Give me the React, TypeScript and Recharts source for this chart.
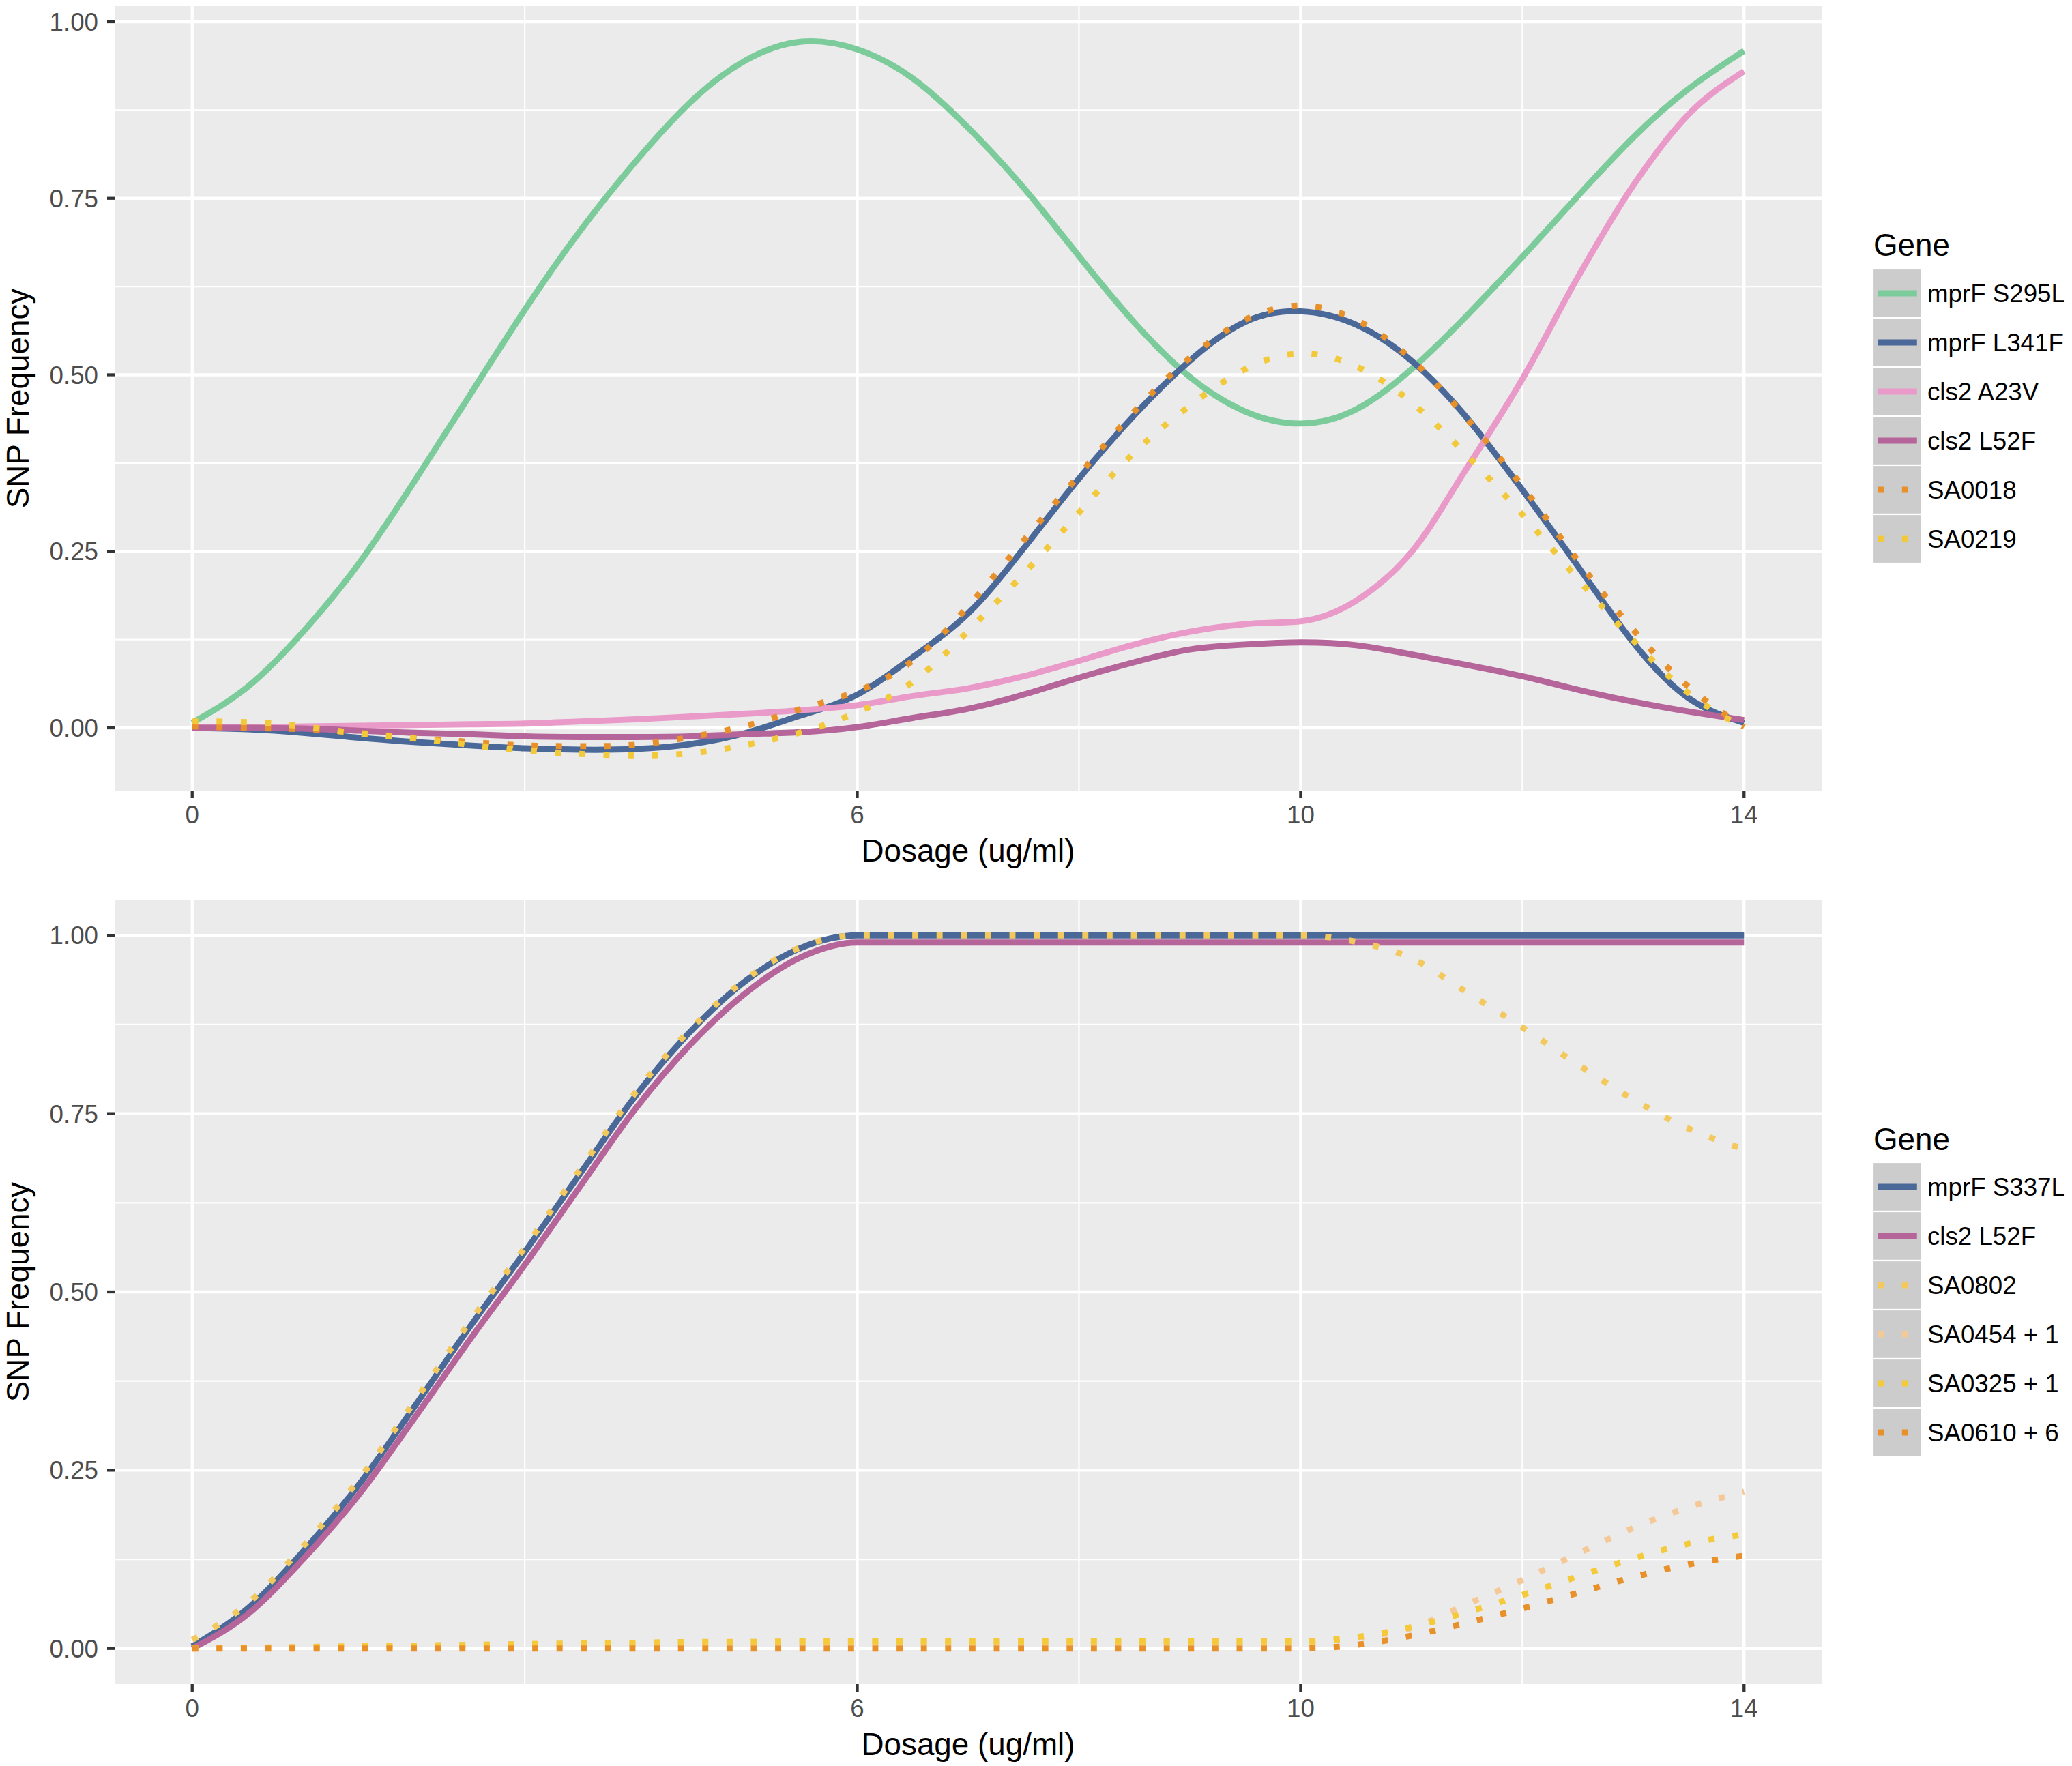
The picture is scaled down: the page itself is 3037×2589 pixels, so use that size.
import React from 'react';
import { LineChart, Line, XAxis, YAxis, CartesianGrid } from 'recharts';

const FONT = "'Liberation Sans', Arial, Helvetica, sans-serif";

// shared x values (dosage, ug/ml)
const dosage = [0, 0.5, 1, 1.5, 2, 2.5, 3, 3.5, 4, 4.5, 5, 5.5, 6, 6.5, 7, 7.5, 8, 8.5, 9, 9.5, 10, 10.5, 11, 11.5, 12, 12.5, 13, 13.5, 14];
const xMajor = [0, 6, 10, 14];
const xMinor = [3, 8, 12];
const yMajor = [0, 0.25, 0.5, 0.75, 1];
const yMinor = [0.125, 0.375, 0.625, 0.875];

// ---- top panel series ----
const mprF_S295L = [0.007, 0.058, 0.136, 0.232, 0.348, 0.47, 0.592, 0.704, 0.802, 0.887, 0.946, 0.972, 0.961, 0.92, 0.85, 0.765, 0.668, 0.574, 0.497, 0.448, 0.431, 0.451, 0.508, 0.584, 0.667, 0.753, 0.836, 0.905, 0.959];
const mprF_L341F = [0, -0.002, -0.007, -0.014, -0.02, -0.025, -0.029, -0.031, -0.03, -0.023, -0.007, 0.018, 0.047, 0.1, 0.162, 0.254, 0.353, 0.443, 0.52, 0.575, 0.59, 0.571, 0.52, 0.439, 0.337, 0.229, 0.121, 0.042, 0.007];
const cls2_A23V = [0.001, 0.001, 0.002, 0.003, 0.004, 0.005, 0.006, 0.009, 0.012, 0.016, 0.02, 0.025, 0.032, 0.045, 0.056, 0.073, 0.095, 0.118, 0.136, 0.147, 0.151, 0.18, 0.249, 0.368, 0.494, 0.638, 0.768, 0.869, 0.93];
const cls2_L52F_top = [0, 0, -0.001, -0.004, -0.007, -0.009, -0.012, -0.013, -0.013, -0.012, -0.009, -0.006, 0.001, 0.014, 0.027, 0.047, 0.071, 0.093, 0.111, 0.118, 0.121, 0.117, 0.104, 0.089, 0.073, 0.054, 0.037, 0.023, 0.011];
const SA0018 = [0.002, 0, -0.002, -0.007, -0.014, -0.02, -0.025, -0.026, -0.024, -0.013, 0.003, 0.027, 0.052, 0.095, 0.172, 0.265, 0.358, 0.448, 0.524, 0.578, 0.598, 0.578, 0.522, 0.438, 0.342, 0.237, 0.139, 0.058, 0.001];
const SA0219 = [0.009, 0.008, 0.002, -0.008, -0.015, -0.024, -0.032, -0.037, -0.039, -0.036, -0.024, -0.006, 0.022, 0.065, 0.137, 0.218, 0.305, 0.39, 0.456, 0.508, 0.53, 0.512, 0.461, 0.386, 0.302, 0.211, 0.124, 0.049, 0];

// ---- bottom panel series ----
const mprF_S337L = [0.003, 0.056, 0.136, 0.229, 0.338, 0.45, 0.556, 0.666, 0.775, 0.866, 0.937, 0.983, 1, 1, 1, 1, 1, 1, 1, 1, 1, 1, 1, 1, 1, 1, 1, 1, 1];
const cls2_L52F_bot = [0, 0.048, 0.125, 0.215, 0.322, 0.432, 0.538, 0.648, 0.757, 0.848, 0.92, 0.97, 0.99, 0.99, 0.99, 0.99, 0.99, 0.99, 0.99, 0.99, 0.99, 0.99, 0.99, 0.99, 0.99, 0.99, 0.99, 0.99, 0.99];
const SA0802 = [0.012, 0.063, 0.143, 0.236, 0.345, 0.457, 0.562, 0.672, 0.78, 0.869, 0.939, 0.984, 1, 1, 1, 1, 1, 1, 1, 1, 1, 0.991, 0.968, 0.92, 0.871, 0.819, 0.77, 0.729, 0.7];
const SA0454_1 = [0, 0.001, 0.002, 0.003, 0.004, 0.005, 0.006, 0.007, 0.008, 0.008, 0.009, 0.009, 0.009, 0.009, 0.009, 0.009, 0.009, 0.009, 0.009, 0.009, 0.009, 0.015, 0.029, 0.062, 0.096, 0.133, 0.169, 0.198, 0.22];
const SA0325_1 = [0, 0.001, 0.002, 0.003, 0.004, 0.005, 0.006, 0.007, 0.008, 0.009, 0.009, 0.01, 0.01, 0.01, 0.01, 0.01, 0.01, 0.01, 0.01, 0.01, 0.01, 0.016, 0.03, 0.051, 0.075, 0.101, 0.126, 0.147, 0.16];
const SA0610_6 = [0, 0, 0, 0, 0, 0, 0, 0, 0, 0, 0, 0, 0, 0, 0, 0, 0, 0, 0, 0, 0, 0.005, 0.018, 0.036, 0.056, 0.078, 0.1, 0.118, 0.13];

const topNames = ['mprF S295L', 'mprF L341F', 'cls2 A23V', 'cls2 L52F', 'SA0018', 'SA0219'];
const topValues = [mprF_S295L, mprF_L341F, cls2_A23V, cls2_L52F_top, SA0018, SA0219];
const topColors = ['#7BCB9B', '#4A6898', '#E99AC9', '#B5659A', '#E8912A', '#F3C93C'];
const topDotted = [false, false, false, false, true, true];
const topCurve = ['natural', 'natural', 'monotone', 'natural', 'natural', 'natural'];

const botNames = ['mprF S337L', 'cls2 L52F', 'SA0802', 'SA0454 + 1', 'SA0325 + 1', 'SA0610 + 6'];
const botValues = [mprF_S337L, cls2_L52F_bot, SA0802, SA0454_1, SA0325_1, SA0610_6];
const botColors = ['#4A6898', '#B5659A', '#F3C85C', '#F5C897', '#F4CA3A', '#E8912A'];
const botDotted = [false, false, true, true, true, true];
const botCurve = ['monotone', 'monotone', 'monotone', 'monotone', 'monotone', 'monotone'];

const LW = 8.9;
const DOTS = '8.9 26.7';
const TICK_FS = 36.7;
const TITLE_FS = 45.8;

function buildRows(values: number[][]) {
  return dosage.map((x, i) => {
    const row: Record<string, number> = { x };
    values.forEach((v, j) => {
      row['s' + j] = v[i];
    });
    return row;
  });
}

type PanelProps = {
  top: number;
  height: number;
  names: string[];
  values: number[][];
  colors: string[];
  dotted: boolean[];
  curves: string[];
  yDomain: [number, number];
};

function Panel({ top, height, names, values, colors, dotted, curves, yDomain }: PanelProps) {
  const rows = buildRows(values);
  return (
    <div style={{ position: 'absolute', left: 0, top, width: 3037, height }}>
      <LineChart width={3037} height={height} data={rows} margin={{ top: 9, right: 367, bottom: 0, left: 0 }}>
        <CartesianGrid
          fill="#EBEBEB"
          fillOpacity={1}
          stroke="#FFFFFF"
          strokeWidth={2.2}
          horizontalValues={yMinor}
          verticalValues={xMinor}
        />
        <CartesianGrid stroke="#FFFFFF" strokeWidth={4.3} horizontalValues={yMajor} verticalValues={xMajor} />
        <XAxis
          type="number"
          dataKey="x"
          domain={[-0.7, 14.7]}
          ticks={xMajor}
          interval={0}
          height={height - 9 - 1150}
          axisLine={false}
          tickLine={{ stroke: '#333333', strokeWidth: 4.3 }}
          tickSize={11}
          tickMargin={11}
          tick={{ fill: '#4D4D4D', fontSize: TICK_FS, fontFamily: FONT }}
        />
        <YAxis
          type="number"
          domain={yDomain}
          ticks={yMajor}
          interval={0}
          width={168}
          axisLine={false}
          tickLine={{ stroke: '#333333', strokeWidth: 4.3 }}
          tickSize={11}
          tickMargin={13}
          tick={{ fill: '#4D4D4D', fontSize: TICK_FS, fontFamily: FONT }}
          tickFormatter={(v: number) => v.toFixed(2)}
        />
        {names.map((n, j) => (
          <Line
            key={n}
            type={curves[j] as any}
            dataKey={'s' + j}
            name={n}
            stroke={colors[j]}
            strokeWidth={LW}
            strokeDasharray={dotted[j] ? DOTS : undefined}
            dot={false}
            activeDot={false}
            isAnimationActive={false}
          />
        ))}
      </LineChart>
    </div>
  );
}

function LegendBlock({ titleBaseline, keyTop, names, colors, dotted }: { titleBaseline: number; keyTop: number; names: string[]; colors: string[]; dotted: boolean[] }) {
  return (
    <g>
      <text x={2746} y={titleBaseline} fontSize={TITLE_FS} fontFamily={FONT} fill="#000000">
        Gene
      </text>
      {names.map((n, i) => {
        const y0 = keyTop + i * 72;
        const cy = y0 + 36;
        return (
          <g key={n}>
            <rect x={2745} y={y0} width={72} height={72} fill="#CCCCCC" stroke="#FFFFFF" strokeWidth={2.2} />
            <line x1={2752.2} x2={2809.8} y1={cy} y2={cy} stroke={colors[i]} strokeWidth={LW} strokeDasharray={dotted[i] ? DOTS : undefined} />
            <text x={2825} y={cy + 13} fontSize={TICK_FS} fontFamily={FONT} fill="#000000">
              {n}
            </text>
          </g>
        );
      })}
    </g>
  );
}

export default function App() {
  return (
    <div style={{ position: 'absolute', left: 0, top: 0, width: 3037, height: 2589, background: '#FFFFFF', overflow: 'hidden' }}>
      <Panel top={0} height={1310} names={topNames} values={topValues} colors={topColors} dotted={topDotted} curves={topCurve} yDomain={[-0.0889, 1.0222]} />
      <Panel top={1310} height={1279} names={botNames} values={botValues} colors={botColors} dotted={botDotted} curves={botCurve} yDomain={[-0.05, 1.05]} />
      <svg width={3037} height={2589} style={{ position: 'absolute', left: 0, top: 0, pointerEvents: 'none' }}>
        <text x={42} y={584} transform="rotate(-90 42 584)" textAnchor="middle" fontSize={TITLE_FS} fontFamily={FONT} fill="#000000">
          SNP Frequency
        </text>
        <text x={42} y={1894} transform="rotate(-90 42 1894)" textAnchor="middle" fontSize={TITLE_FS} fontFamily={FONT} fill="#000000">
          SNP Frequency
        </text>
        <text x={1419} y={1263} textAnchor="middle" fontSize={TITLE_FS} fontFamily={FONT} fill="#000000">
          Dosage (ug/ml)
        </text>
        <text x={1419} y={2573} textAnchor="middle" fontSize={TITLE_FS} fontFamily={FONT} fill="#000000">
          Dosage (ug/ml)
        </text>
        <LegendBlock titleBaseline={375} keyTop={394} names={topNames} colors={topColors} dotted={topDotted} />
        <LegendBlock titleBaseline={1686} keyTop={1704} names={botNames} colors={botColors} dotted={botDotted} />
      </svg>
    </div>
  );
}
